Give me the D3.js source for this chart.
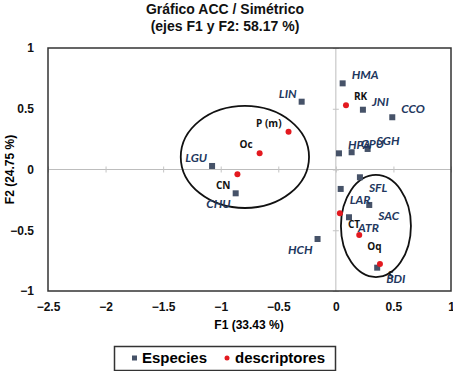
<!DOCTYPE html>
<html>
<head>
<meta charset="utf-8">
<script src="https://cdn.jsdelivr.net/npm/d3@7"></script>
<style>
  body { margin: 0; background: #fff; }
  svg { display: block; }
</style>
</head>
<body>
<svg id="chart" width="453" height="371"></svg>
<script>
// species (blue squares)
var speciesNames = ["LIN", "LGU", "CHU", "HMA", "JNI", "CCO", "HPA", "GPU", "SGH", "SFL", "LAR", "SAC", "ATR", "HCH", "BDI"];
var speciesF1 = [-0.297, -1.075, -0.87, 0.059, 0.235, 0.49, 0.027, 0.137, 0.276, 0.209, 0.042, 0.29, 0.114, -0.159, 0.359];
var speciesF2 = [0.558, 0.029, -0.196, 0.709, 0.492, 0.43, 0.133, 0.142, 0.169, -0.064, -0.16, -0.292, -0.393, -0.572, -0.808];

// descriptors (red dots)
var descNames = ["P (m)", "Oc", "CN", "RK", "CT", "Oq", "S"];
var descF1 = [-0.411, -0.662, -0.855, 0.088, 0.035, 0.203, 0.383];
var descF2 = [0.311, 0.133, -0.04, 0.528, -0.36, -0.54, -0.778];

// groups circled on the chart: centre F1, centre F2, radius F1, radius F2
var groupCx = [-0.79, 0.348];
var groupCy = [0.103, -0.465];
var groupRx = [0.557, 0.304];
var groupRy = [0.42, 0.42];

var xTicks = [-2.5, -2, -1.5, -1, -0.5, 0, 0.5, 1];
var yTicks = [-1, -0.5, 0, 0.5, 1];

var svg = d3.select("#chart"),
    margin = {top: 48, right: 2, bottom: 80, left: 48},
    width = 453 - margin.left - margin.right,
    height = 371 - margin.top - margin.bottom;

var x = d3.scaleLinear().domain([-2.5, 1]).range([0, width]);
var y = d3.scaleLinear().domain([-1, 1]).range([height, 0]);

var g = svg.append("g").attr("transform", "translate(" + margin.left + "," + margin.top + ")");

// title
var title = svg.append("text")
    .attr("x", 225)
    .attr("text-anchor", "middle")
    .style("font", "bold 14px 'Liberation Sans', Arial, sans-serif")
    .style("fill", "#111");
title.append("tspan").attr("x", 225).attr("y", 14).text("Gráfico ACC / Simétrico");
title.append("tspan").attr("x", 225).attr("y", 31).text("(ejes F1 y F2: 58.17 %)");

// zero lines
g.append("line")
    .attr("x1", 0).attr("x2", width)
    .attr("y1", y(0)).attr("y2", y(0))
    .style("stroke", "#bdbdbd").style("stroke-width", 1);
g.append("line")
    .attr("x1", x(0)).attr("x2", x(0))
    .attr("y1", 0).attr("y2", height)
    .style("stroke", "#bdbdbd").style("stroke-width", 1);

// small tick marks on the zero lines
var xZero = g.append("g")
    .attr("transform", "translate(0," + (y(0) - 3) + ")")
    .call(d3.axisBottom(x).tickValues(xTicks).tickSize(6).tickFormat(""));
var yZero = g.append("g")
    .attr("transform", "translate(" + (x(0) + 3) + ",0)")
    .call(d3.axisLeft(y).tickValues(yTicks).tickSize(6).tickFormat(""));
[xZero, yZero].forEach(function(a) {
    a.select(".domain").remove();
    a.selectAll("line").style("stroke", "#c4c4c4");
});

// tick labels
var xAxis = g.append("g")
    .attr("transform", "translate(0," + height + ")")
    .call(d3.axisBottom(x).tickValues(xTicks).tickSize(0).tickPadding(11).tickFormat(d3.format("")));
var yAxis = g.append("g")
    .call(d3.axisLeft(y).tickValues(yTicks).tickSize(0).tickPadding(14).tickFormat(d3.format("")));
[xAxis, yAxis].forEach(function(a) {
    a.select(".domain").remove();
    a.selectAll("text")
        .style("font", "bold 12px 'Liberation Sans', Arial, sans-serif")
        .style("fill", "#111");
});

// frame
g.append("rect")
    .attr("width", width).attr("height", height)
    .style("fill", "none").style("stroke", "#333").style("stroke-width", 1.5);

// axis titles
svg.append("text")
    .attr("x", 249).attr("y", 329)
    .attr("text-anchor", "middle")
    .style("font", "bold 12px 'Liberation Sans', Arial, sans-serif")
    .text("F1 (33.43 %)");
svg.append("text")
    .attr("transform", "translate(14," + (margin.top + y(0)) + ") rotate(-90)")
    .attr("text-anchor", "middle")
    .style("font", "bold 12px 'Liberation Sans', Arial, sans-serif")
    .text("F2 (24.75 %)");

// ellipses
g.selectAll(".group")
    .data(groupCx)
    .enter().append("ellipse")
    .attr("class", "group")
    .attr("cx", function(d) { return x(d); })
    .attr("cy", function(d, i) { return y(groupCy[i]); })
    .attr("rx", function(d, i) { return x(groupRx[i]) - x(0); })
    .attr("ry", function(d, i) { return y(0) - y(groupRy[i]); })
    .style("fill", "none").style("stroke", "#111").style("stroke-width", 1.8);

var species = speciesNames.map(function(n, i) { return {name: n, f1: speciesF1[i], f2: speciesF2[i]}; });
var descs = descNames.map(function(n, i) { return {name: n, f1: descF1[i], f2: descF2[i]}; });

// labels go away from the origin
function labelX(d, right, left) { return x(d.f1) + (d.f1 >= 0 ? right : left); }
function labelY(d, up, down) { return y(d.f2) + (d.f2 >= 0 ? up : down); }

g.selectAll(".sp")
    .data(species)
    .enter().append("rect")
    .attr("class", "sp")
    .attr("x", function(d) { return x(d.f1) - 3; })
    .attr("y", function(d) { return y(d.f2) - 3; })
    .attr("width", 6).attr("height", 6)
    .style("fill", "#465268");

g.selectAll(".ds")
    .data(descs)
    .enter().append("circle")
    .attr("class", "ds")
    .attr("cx", function(d) { return x(d.f1); })
    .attr("cy", function(d) { return y(d.f2); })
    .attr("r", 3)
    .style("fill", "#e3191f");

g.selectAll(".dsLabel")
    .data(descs)
    .enter().append("text")
    .attr("class", "dsLabel")
    .attr("x", function(d) { return labelX(d, 8, -7); })
    .attr("y", function(d) { return labelY(d, -5, 15); })
    .attr("text-anchor", function(d) { return d.f1 >= 0 ? "start" : "end"; })
    .style("font", "bold 10px 'Open Sans', sans-serif")
    .style("fill", "#111")
    .text(function(d) { return d.name; });

g.selectAll(".spLabel")
    .data(species)
    .enter().append("text")
    .attr("class", "spLabel")
    .attr("x", function(d) { return labelX(d, 9, -5); })
    .attr("y", function(d) { return labelY(d, -4, 15); })
    .attr("text-anchor", function(d) { return d.f1 >= 0 ? "start" : "end"; })
    .style("font", "italic bold 12px Lato, 'Open Sans', sans-serif")
    .style("fill", "#22375e")
    .text(function(d) { return d.name; });

// legend
var legend = svg.append("g");
legend.append("rect")
    .attr("x", 114.5).attr("y", 346.5)
    .attr("width", 221).attr("height", 24)
    .style("fill", "#fff").style("stroke", "#333").style("stroke-width", 1.5);
legend.append("rect")
    .attr("x", 132).attr("y", 355.5).attr("width", 5).attr("height", 5)
    .style("fill", "#465268");
legend.append("text")
    .attr("x", 142).attr("y", 363)
    .style("font", "bold 15px 'Liberation Sans', Arial, sans-serif")
    .text("Especies");
legend.append("circle")
    .attr("cx", 227).attr("cy", 358).attr("r", 2.5)
    .style("fill", "#e3191f");
legend.append("text")
    .attr("x", 235).attr("y", 363)
    .style("font", "bold 15px 'Liberation Sans', Arial, sans-serif")
    .text("descriptores");
</script>
</body>
</html>
